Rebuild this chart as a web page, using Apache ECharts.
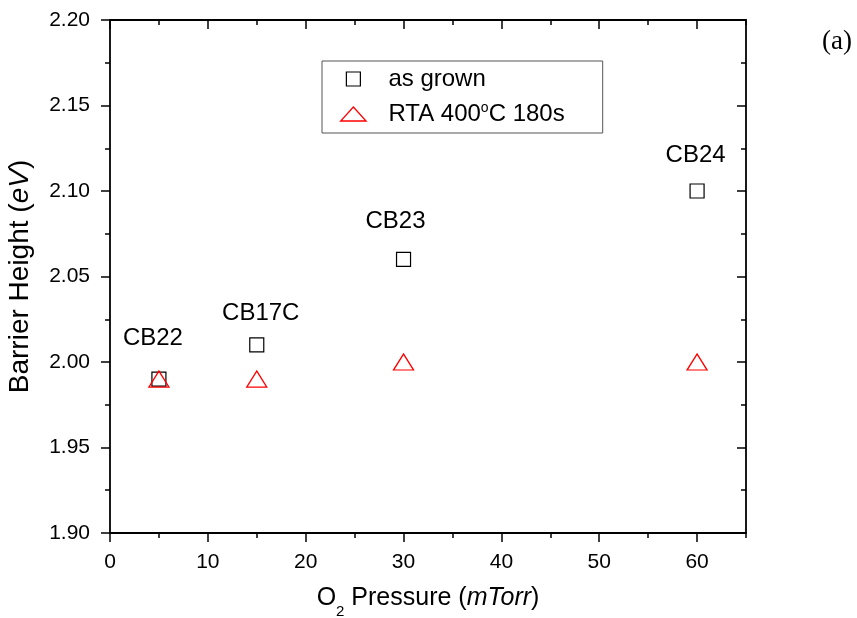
<!DOCTYPE html>
<html><head><meta charset="utf-8">
<script src="https://cdn.jsdelivr.net/npm/echarts@6/dist/echarts.min.js"></script>
<style>html,body{margin:0;padding:0;background:#fff}#c{width:857px;height:618px}</style>
</head><body><div id="c"></div>
<script>
// ---- data ----
const pressure = [5, 15, 30, 60];
const asGrown = [1.99, 2.01, 2.06, 2.10];
const rta = [1.99, 1.99, 2.00, 2.00];
const sampleNames = ['CB22', 'CB17C', 'CB23', 'CB24'];
const seriesNames = ['as grown', 'RTA 400°C 180s'];
const xMajorTicks = [0, 10, 20, 30, 40, 50, 60];
const xMinorTicks = [5, 15, 25, 35, 45, 55, 65];
const yMajorTicks = [1.90, 1.95, 2.00, 2.05, 2.10, 2.15, 2.20];
const yMinorTicks = [1.925, 1.975, 2.025, 2.075, 2.125, 2.175];

// ---- styles ----
const FF = 'Liberation Sans';
const labelOffsets = [[-6, -40.5], [4, -32], [-8, -38.5], [-1.5, -36]];
const lineS = { color: '#000', width: 1.8 };
const tickS = { color: '#000', width: 1.5 };

function xAx(grid, pos, ticks, len, inside, withLabels, showLine) {
  const a = {
    type: 'value', gridIndex: grid, position: pos, min: 0, max: 65,
    axisLine: { show: showLine, onZero: false, lineStyle: lineS },
    axisTick: { show: true, inside: inside, length: len, customValues: ticks, lineStyle: tickS },
    axisLabel: { show: false },
    splitLine: { show: false }
  };
  if (withLabels) {
    a.axisLabel = { show: true, customValues: xMajorTicks, margin: 19, color: '#000', fontSize: 21, fontFamily: FF,
      formatter: v => String(Math.round(v)) };
    a.name = '{n|O}{sub|2}{n| Pressure (}{i|mTorr}{n|)}';
    a.nameLocation = 'middle';
    a.nameGap = 51;
    a.nameTextStyle = { color: '#000', fontFamily: FF, fontSize: 25,
      rich: {
        n: { fontSize: 25, fontFamily: FF, color: '#000', lineHeight: 28 },
        i: { fontSize: 25, fontFamily: FF, color: '#000', lineHeight: 28, fontStyle: 'italic' },
        sub: { fontSize: 15, fontFamily: FF, color: '#000', lineHeight: 15, padding: [26, 0, 0, 0] }
      } };
  }
  return a;
}
function yAx(grid, pos, ticks, len, inside, withLabels, showLine) {
  const a = {
    type: 'value', gridIndex: grid, position: pos, min: 1.9, max: 2.2,
    axisLine: { show: showLine, onZero: false, lineStyle: lineS },
    axisTick: { show: true, inside: inside, length: len, customValues: ticks, lineStyle: tickS },
    axisLabel: { show: false },
    splitLine: { show: false }
  };
  if (withLabels) {
    a.axisLabel = { show: true, customValues: yMajorTicks, margin: 20, color: '#000', fontSize: 21, fontFamily: FF,
      formatter: v => v.toFixed(2) };
    a.name = '{n|Barrier Height (}{i|eV}{n|)}';
    a.nameLocation = 'middle';
    a.nameGap = 76;
    a.nameTextStyle = { color: '#000', fontFamily: FF, fontSize: 28,
      rich: {
        n: { fontSize: 28, fontFamily: FF, color: '#000' },
        i: { fontSize: 28, fontFamily: FF, color: '#000', fontStyle: 'italic' }
      } };
  }
  return a;
}

const gridRect = { left: 110, right: 111, top: 20, bottom: 85, containLabel: false, outerBoundsMode: 'none' };

const option = {
  animation: false,
  backgroundColor: '#fff',
  title: { text: '(a)', left: 822, top: 28, padding: 0,
    textStyle: { fontFamily: 'Liberation Serif', fontSize: 27, fontWeight: 'normal', color: '#000' } },
  grid: [Object.assign({}, gridRect), Object.assign({}, gridRect)],
  xAxis: [
    xAx(0, 'bottom', xMajorTicks, 9, false, true, true),
    xAx(0, 'top', xMajorTicks, 9, true, false, true),
    xAx(1, 'bottom', xMinorTicks, 5, false, false, false),
    xAx(1, 'top', xMinorTicks, 5, true, false, false)
  ],
  yAxis: [
    yAx(0, 'left', yMajorTicks, 9, false, true, true),
    yAx(0, 'right', yMajorTicks, 9, true, false, true),
    yAx(1, 'left', yMinorTicks, 5, false, false, false),
    yAx(1, 'right', yMinorTicks, 5, true, false, false)
  ],
  legend: {
    orient: 'vertical', left: 322, top: 61,
    borderColor: '#555', borderWidth: 1, padding: [6, 38, 6, 18],
    itemWidth: 60, itemHeight: 14, itemGap: 10,
    selectedMode: false,
    formatter: name => name === seriesNames[1] ? '{n|RTA 400}{sup|o}{n|C 180s}' : '{n|' + name + '}',
    textStyle: { fontSize: 24, fontFamily: FF, color: '#000', lineHeight: 24,
      rich: {
        n: { fontSize: 24, fontFamily: FF, color: '#000', lineHeight: 24 },
        sup: { fontSize: 14, fontFamily: FF, color: '#000', lineHeight: 14, padding: [0, 0, 12, 0] }
      } },
    data: [
      { name: seriesNames[0], icon: 'path://M0 0H10V10H0Z',
        itemStyle: { color: 'rgba(0,0,0,0)', borderColor: '#000', borderWidth: 1.2, opacity: 1 } },
      { name: seriesNames[1], icon: 'path://M10 0L20 11L0 11Z',
        itemStyle: { color: 'rgba(0,0,0,0)', borderColor: '#ff0000', borderWidth: 1.3, opacity: 1 } }
    ]
  },
  series: [
    {
      type: 'scatter', name: seriesNames[0], xAxisIndex: 0, yAxisIndex: 0,
      symbol: 'rect', symbolSize: 14, z: 2,
      itemStyle: { color: 'rgba(0,0,0,0)', borderColor: '#000', borderWidth: 1.2, opacity: 1 },
      label: { show: true, position: 'inside', color: '#000', fontSize: 24, fontFamily: FF,
        formatter: p => sampleNames[p.dataIndex] },
      emphasis: { disabled: true },
      data: pressure.map((x, i) => ({ value: [x, asGrown[i]], label: { offset: labelOffsets[i] } }))
    },
    {
      type: 'scatter', name: seriesNames[1], xAxisIndex: 0, yAxisIndex: 0,
      symbol: 'triangle', symbolSize: [20, 16], z: 3,
      itemStyle: { color: 'rgba(0,0,0,0)', borderColor: '#ff0000', borderWidth: 1.3, opacity: 1 },
      emphasis: { disabled: true },
      data: pressure.map((x, i) => [x, rta[i]])
    }
  ]
};
const chart = echarts.init(document.getElementById('c'), null, { renderer: 'canvas' });
chart.setOption(option);
</script>
</body></html>
